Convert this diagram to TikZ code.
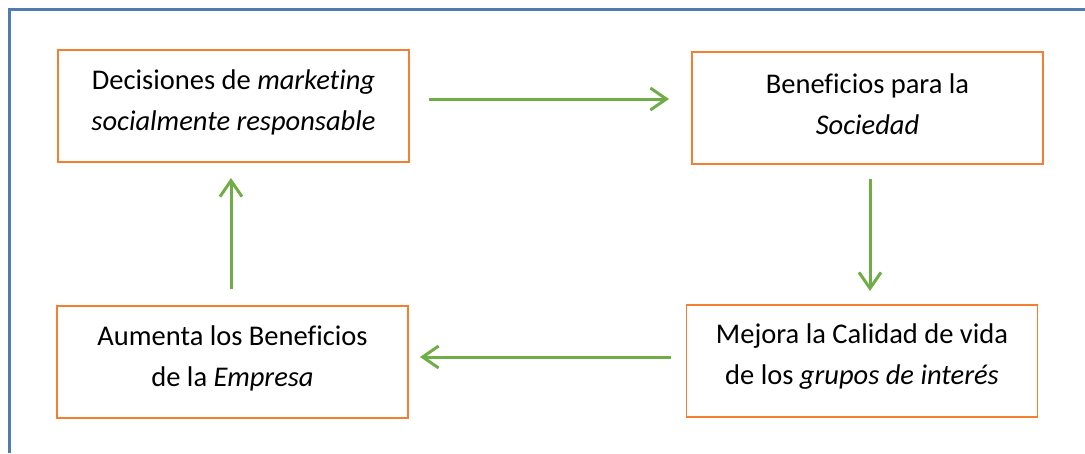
\documentclass[tikz,border=0pt]{standalone}
\usepackage{fontspec}
\setmainfont[Ligatures=NoCommon]{Carlito}
\usetikzlibrary{arrows.meta}
\definecolor{frameblue}{HTML}{4F7CB0}
\definecolor{boxorange}{HTML}{F47F30}
\definecolor{arrowgreen}{HTML}{70AD47}
\tikzset{
  stepbox/.style={draw=boxorange, line width=1.4pt, minimum width=351pt, minimum height=112pt,
    inner sep=0pt},
  caption/.style={align=center, font=\fontsize{28.5}{41}\selectfont, inner sep=0pt},
  flow/.style={draw=arrowgreen, line width=3pt,
    -{Straight Barb[length=16pt, width=22pt, line width=3pt]}}
}
\begin{document}
\begin{tikzpicture}[x=1pt, y=-1pt]
  \useasboundingbox (0,0) rectangle (1085,453);
  % outer frame (top and left edges)
  \draw[frameblue, line width=3pt] (9,453) -- (9,9) -- (1085,9);

  \node[stepbox] (dec) at (233.5,106) {};
  \node[stepbox] (soc) at (867.5,108) {};
  \node[stepbox] (vida) at (862,361) {};
  \node[stepbox] (emp) at (232.5,362) {};

  % box captions, set a little above the box centres
  \node[caption] (tdec) at ([yshift=4pt]dec.center)
    {Decisiones de \textit{marketing}\\\textit{socialmente responsable}};
  \node[caption] (tsoc) at ([yshift=4pt]soc.center)
    {Beneficios para la\\\textit{Sociedad}};
  \node[caption] (tvida) at ([yshift=4pt]vida.center)
    {Mejora la Calidad de vida\\de los \textit{grupos de interés}};
  \node[caption] (temp) at ([yshift=4pt]emp.center)
    {Aumenta los Beneficios\\de la \textit{Empresa}};

  \coordinate (a1s) at (429,99);  \coordinate (a1e) at (669,99);
  \coordinate (a2s) at (870,179); \coordinate (a2e) at (870,291);
  \coordinate (a3s) at (671,357); \coordinate (a3e) at (420,357);
  \coordinate (a4s) at (231,289); \coordinate (a4e) at (231,178);

  \draw[flow] (a1s) -- (a1e);
  \draw[flow] (a2s) -- (a2e);
  \draw[flow] (a3s) -- (a3e);
  \draw[flow] (a4s) -- (a4e);
\end{tikzpicture}
\end{document}
